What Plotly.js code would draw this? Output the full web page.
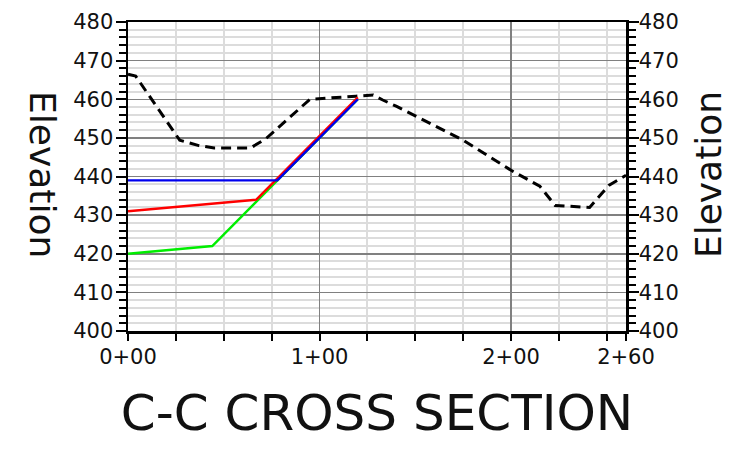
<!DOCTYPE html>
<html>
<head>
<meta charset="utf-8">
<script src="https://cdn.plot.ly/plotly-3.0.1.min.js"></script>
<style>html,body{margin:0;padding:0;background:#fff;}#chart{width:739px;height:451px;}</style>
</head>
<body>
<div id="chart"></div>
<script>
// Existing ground (dashed black)
const groundStation = [0, 4, 27, 37, 45, 64, 72, 84, 95, 119, 128, 133, 140, 175, 200, 215, 223, 241, 251, 260];
const groundElev    = [466.5, 466, 449.4, 448, 447.4, 447.4, 449.8, 455, 460, 460.8, 461.1, 459.8, 458.2, 449.4, 441.6, 437.5, 432.5, 432, 437.7, 440.3];

// Proposed grading lines
const greenStation = [0, 44, 120];
const greenElev    = [420, 422, 460];
const redStation   = [0, 67, 120];
const redElev      = [431, 434, 460.5];
const blueStation  = [0, 78, 120];
const blueElev     = [439, 439, 460];

// Axis labels
const xTickVals = [0, 100, 200, 260];
const xTickText = ["0+00", "1+00", "2+00", "2+60"];
const xMinorVals = [25, 50, 75, 125, 150, 175, 225, 250];

const FONT = "'DejaVu Sans', sans-serif";

const traces = [
  {x: groundStation, y: groundElev, mode: "lines", line: {color: "#000", width: 3, dash: "10px,6px"}, hoverinfo: "skip"},
  {x: greenStation, y: greenElev, mode: "lines", line: {color: "#00ee00", width: 2.4}},
  {x: redStation, y: redElev, mode: "lines", line: {color: "#ff0000", width: 2.4}},
  {x: blueStation, y: blueElev, mode: "lines", line: {color: "#0000ee", width: 2.4}},
  {x: [null], y: [null], yaxis: "y2", mode: "lines", showlegend: false}
];

const tickFont = {family: FONT, size: 21, color: "#111"};

const layout = {
  width: 739, height: 451,
  margin: {l: 128, r: 113, t: 22, b: 120},
  paper_bgcolor: "#fff", plot_bgcolor: "#fff",
  showlegend: false,
  title: {text: "C-C CROSS SECTION", font: {family: FONT, size: 50, color: "#111"},
          x: 0.5, xref: "paper", xanchor: "center", y: 0.086, yref: "container", yanchor: "middle"},
  xaxis: {
    range: [0, 260], tickmode: "array", tickvals: xTickVals, ticktext: xTickText,
    showgrid: true, gridcolor: "#808080", gridwidth: 1.5,
    ticks: "outside", ticklen: 7, tickwidth: 2, tickcolor: "#000",
    showline: true, linecolor: "#000", linewidth: 2.5, mirror: true,
    zeroline: false, tickfont: tickFont, ticklabelstandoff: -2,
    minor: {tickmode: "array", tickvals: xMinorVals, ticks: "outside", ticklen: 7, tickwidth: 2, tickcolor: "#000",
            showgrid: true, gridcolor: "#dcdcdc", gridwidth: 2}
  },
  yaxis: {
    range: [400, 480], dtick: 10, tick0: 400,
    showgrid: true, gridcolor: "#808080", gridwidth: 1.5,
    ticks: "outside", ticklen: 10, tickwidth: 2, tickcolor: "#000",
    showline: true, linecolor: "#000", linewidth: 2.5,
    zeroline: false, tickfont: tickFont, ticklabelstandoff: -2,
    minor: {dtick: 2, ticks: "outside", ticklen: 7, tickwidth: 2, tickcolor: "#000",
            showgrid: true, gridcolor: "#dcdcdc", gridwidth: 2}
  },
  yaxis2: {
    range: [400, 480], dtick: 10, tick0: 400, overlaying: "y", side: "right",
    showgrid: false, zeroline: false,
    ticks: "outside", ticklen: 10, tickwidth: 2, tickcolor: "#000",
    showline: true, linecolor: "#000", linewidth: 2.5,
    tickfont: tickFont, ticklabelstandoff: -4,
    minor: {dtick: 2, ticks: "outside", ticklen: 7, tickwidth: 2, tickcolor: "#000", showgrid: false}
  },
  annotations: [
    {text: "Elevation", xref: "paper", yref: "paper", x: -0.173, y: 0.505, xanchor: "center", yanchor: "middle",
     textangle: 90, showarrow: false, font: {family: FONT, size: 36, color: "#111"}},
    {text: "Elevation", xref: "paper", yref: "paper", x: 1.167, y: 0.505, xanchor: "center", yanchor: "middle",
     textangle: -90, showarrow: false, font: {family: FONT, size: 36, color: "#111"}}
  ]
};

Plotly.newPlot("chart", traces, layout, {displayModeBar: false, staticPlot: true});
</script>
</body>
</html>
